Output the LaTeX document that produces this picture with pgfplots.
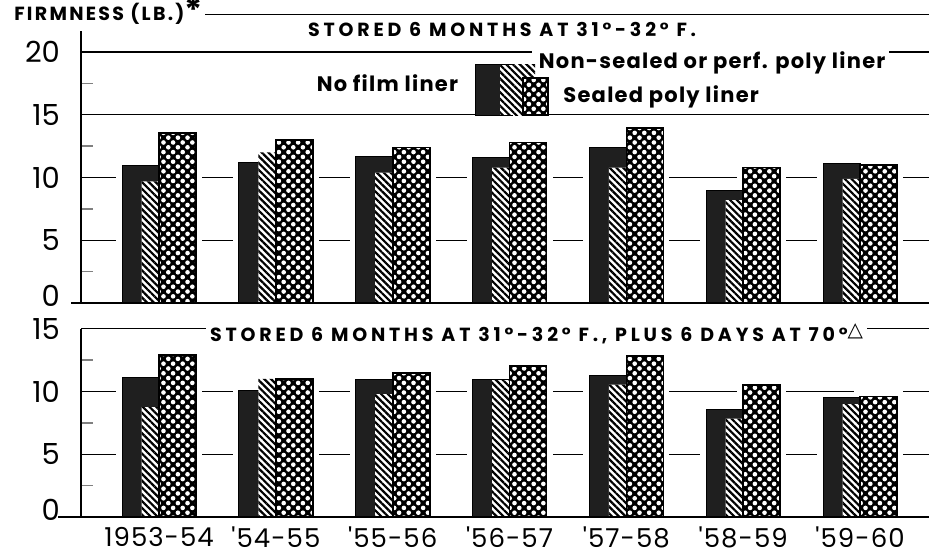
\documentclass[border=0pt]{standalone}
\usepackage{fontspec}
\setmainfont{Poppins}
\newfontfamily\spaced[LetterSpace=20]{Poppins}
\newfontfamily\firmfont[LetterSpace=12]{Poppins}
\newfontfamily\legfont[LetterSpace=6]{Poppins}
\newfontfamily\tickfont[LetterSpace=4,Ligatures=TeXOff]{Poppins}
\newfontfamily\dejavu{DejaVu Sans}
\usepackage{pgfplots}
\pgfplotsset{compat=1.18}
\usepackage{pgfplotstable}
\usetikzlibrary{patterns.meta}

% firmness (lb.): a = no film liner, b = non-sealed/perf. poly liner, c = sealed poly liner
\pgfplotstableread{
x a b c
0 11.0 9.7 13.55
1 11.2 12.0 13.0
2 11.7 10.4 12.4
3 11.6 10.8 12.8
4 12.4 10.8 13.95
5 9.0 8.2 10.8
6 11.1 9.9 11.0
}\colddata
\pgfplotstableread{
x a b c
0 11.1 8.75 12.9
1 10.1 11.0 11.0
2 10.95 9.8 11.45
3 10.95 10.9 12.05
4 11.3 10.55 12.85
5 8.55 7.85 10.5
6 9.5 9.0 9.6
}\warmdata

\tikzset{
  hatchfill/.style={preaction={fill=white}, pattern={Lines[angle=-45,distance=2.4pt,line width=1.1pt]}, pattern color=black},
  checkfill/.style={preaction={fill=black}, pattern={Dots[radius=1.15pt,distance=3.4pt,angle=45]}, pattern color=white},
}
\pgfplotsset{
  firm/.style={
    scale only axis, width=424pt,
    xmin=-0.668, xmax=6.59,
    axis x line*=bottom, axis y line*=left,
    x axis line style={draw=none},
    y axis line style={line width=0.7pt},
    xtick={0,...,6},
    major tick length=0pt, minor tick length=6pt, tick align=inside,
    minor tick style={line width=0.7pt},
    ymajorgrids, grid style={black, line width=0.6pt},
    yticklabel style={font=\fontsize{14.5}{15}\selectfont, xshift=-7pt},
    extra y ticks={0},
    extra y tick style={grid=none, yticklabel style={yshift=3.5pt}},
    /pgf/number format/assume math mode=true,
    clip mode=individual,
  },
  backbar/.style={ybar, bar width=18.5pt, fill=white, draw=white, line width=6pt, forget plot},
  solidbar/.style={ybar, bar width=18.5pt, bar shift=-9.25pt, fill=black!88, draw=black, line width=0.5pt},
  hatchbar/.style={ybar, bar width=18.5pt, bar shift=0.5pt, draw=none, hatchfill},
  checkbar/.style={ybar, bar width=18.5pt, bar shift=9.25pt, draw=black, line width=0.9pt, checkfill},
}

\begin{document}
\begin{tikzpicture}
\useasboundingbox (0,0) rectangle (464.5pt,278pt);

% top panel
\begin{axis}[firm, at={(40.5pt,126.45pt)}, anchor=south west,
  height=136.2pt, ymin=0, ymax=21.7,
  ytick={5,10,15,20}, minor ytick={2.5,7.5,12.5,17.5},
  xticklabels={}]
\addplot[backbar, bar shift=-9.25pt] table[x=x,y=a]{\colddata};
\addplot[backbar, bar shift=0.5pt] table[x=x,y=b]{\colddata};
\addplot[backbar, bar shift=9.25pt] table[x=x,y=c]{\colddata};
\addplot[solidbar] table[x=x,y=a]{\colddata};
\addplot[hatchbar] table[x=x,y=b]{\colddata};
\addplot[checkbar] table[x=x,y=c]{\colddata};
\draw[line width=1.2pt] (axis cs:-0.753,0) -- (axis cs:6.59,0);
\draw[line width=0.7pt] (axis cs:0.394,23) -- (axis cs:6.59,23);
\node[anchor=base east, inner sep=1pt, font=\firmfont\bfseries\fontsize{9.5}{10}\selectfont]
  at (axis cs:0.394,22.55) {FIRMNESS (LB.)\raisebox{-1pt}{\fontsize{17}{17}\selectfont*}};
\node[font=\spaced\bfseries\fontsize{9.5}{10}\selectfont] at (axis cs:2.936,21.76)
  {STORED 6 MONTHS AT 31°-32° F.};
% legend keys
\path[fill=white] (axis cs:3.19,18.0) rectangle (axis cs:6.25,20.3);
\draw[fill=black!88, line width=0.5pt] (axis cs:2.705,14.98) rectangle (axis cs:3.021,18.97);
\path[hatchfill] (axis cs:2.919,14.98) rectangle (axis cs:3.218,18.97);
\path[draw=black, line width=0.9pt, checkfill] (axis cs:3.116,14.98) rectangle (axis cs:3.330,17.94);
\node[anchor=east, font=\legfont\bfseries\fontsize{10.5}{11}\selectfont] at (axis cs:2.62,17.54) {No film liner};
\node[anchor=west, font=\legfont\bfseries\fontsize{10.5}{11}\selectfont] at (axis cs:3.19,19.13) {Non-sealed or perf. poly liner};
\node[anchor=west, font=\legfont\bfseries\fontsize{10.5}{11}\selectfont] at (axis cs:3.40,16.42) {Sealed poly liner};
\end{axis}

% bottom panel
\begin{axis}[firm, at={(40.5pt,19.5pt)}, anchor=south west,
  height=94.1pt, ymin=0, ymax=15,
  ytick={5,10,15}, minor ytick={2.5,7.5,12.5},
  xticklabels={1953-54,'54-55,'55-56,'56-57,'57-58,'58-59,'59-60},
  xticklabel style={font=\tickfont\fontsize{13}{14}\selectfont, yshift=-1.5pt}]
\addplot[backbar, bar shift=-9.25pt] table[x=x,y=a]{\warmdata};
\addplot[backbar, bar shift=0.5pt] table[x=x,y=b]{\warmdata};
\addplot[backbar, bar shift=9.25pt] table[x=x,y=c]{\warmdata};
\addplot[solidbar] table[x=x,y=a]{\warmdata};
\addplot[hatchbar] table[x=x,y=b]{\warmdata};
\addplot[checkbar] table[x=x,y=c]{\warmdata};
\draw[line width=1.2pt] (axis cs:-0.864,0) -- (axis cs:6.59,0);
\node[fill=white, inner sep=2pt, font=\spaced\bfseries\fontsize{9.5}{10}\selectfont] at (axis cs:3.231,14.62)
  {STORED 6 MONTHS AT 31°-32° F., PLUS 6 DAYS AT 70°\raisebox{2.5pt}{\dejavu\fontsize{10}{10}\selectfont △}};
\end{axis}
\end{tikzpicture}
\end{document}
